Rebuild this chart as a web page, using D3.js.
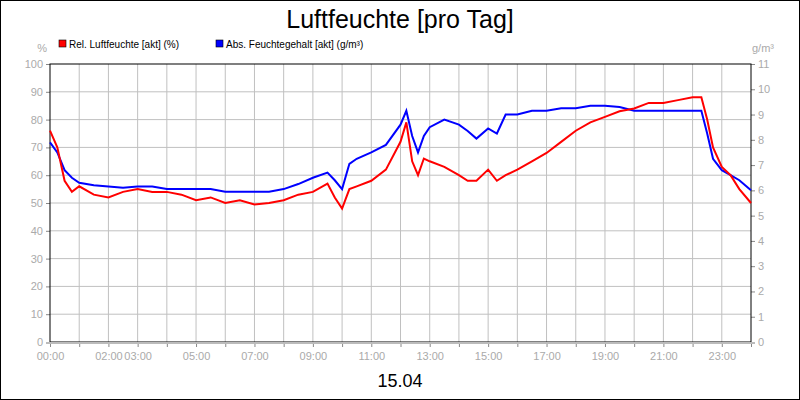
<!DOCTYPE html><html><head><meta charset="utf-8"><script src="https://cdn.jsdelivr.net/npm/d3@7"></script>
<style>body{margin:0}svg{font-family:Arial,"Liberation Sans",sans-serif}</style></head><body><svg width="800" height="400"></svg><script>
const hours=[0,0.25,0.5,0.75,1,1.5,2,2.5,3,3.5,4,4.5,5,5.5,6,6.5,7,7.5,8,8.5,9,9.5,9.75,10,10.25,10.5,11,11.5,12,12.2,12.4,12.6,12.8,13,13.5,14,14.3,14.6,15,15.3,15.6,16,16.5,17,17.5,18,18.5,19,19.5,20,20.5,21,21.5,22,22.3,22.5,22.7,23,23.3,23.6,24];
const relHum=[76,70,58,54,56,53,52,54,55,54,54,53,51,52,50,51,49.5,50,51,53,54,57,52,48,55,56,58,62,72,79,65,60,66,65,63,60,58,58,62,58,60,62,65,68,72,76,79,81,83,84,86,86,87,88,88,80,70,63,60,55,50];
const absHum=[7.9,7.5,6.8,6.5,6.3,6.2,6.15,6.1,6.15,6.15,6.05,6.05,6.05,6.05,5.95,5.95,5.95,5.95,6.05,6.25,6.5,6.7,6.4,6.05,7.05,7.25,7.5,7.8,8.6,9.15,8.15,7.5,8.15,8.5,8.8,8.6,8.35,8.05,8.45,8.25,9.0,9.0,9.15,9.15,9.25,9.25,9.35,9.35,9.3,9.15,9.15,9.15,9.15,9.15,9.15,8.25,7.25,6.8,6.6,6.4,6.0];
const xLabels=[0,2,3,5,7,9,11,13,15,17,19,21,23];
const svg=d3.select("svg");
svg.append("rect").attr("x",0.5).attr("y",0.5).attr("width",799).attr("height",399).attr("fill","#fff").attr("stroke","#000");
const L=50,R=751,T=64,B=342;
const x=d3.scaleLinear().domain([0,24]).range([L,R]);
const yL=d3.scaleLinear().domain([0,100]).range([B,T]);
const yR=d3.scaleLinear().domain([0,11]).range([B,T]);
const g=svg.append("g");
for(let h=1;h<24;h++)g.append("line").attr("x1",x(h)).attr("x2",x(h)).attr("y1",T).attr("y2",B).attr("stroke","#c0c0c0");
for(let v=10;v<100;v+=10)g.append("line").attr("x1",L).attr("x2",R).attr("y1",yL(v)).attr("y2",yL(v)).attr("stroke","#c0c0c0");
const gray="#aaa";
svg.append("g").attr("transform",`translate(${L},0)`).call(d3.axisLeft(yL).tickValues(d3.range(0,101,10)).tickSize(4).tickSizeOuter(0)).call(a=>{a.select(".domain").remove();a.selectAll("line").attr("stroke","#888");a.selectAll("text").attr("fill",gray).attr("font-size",11).attr("font-family","Arial")});
svg.append("g").attr("transform",`translate(${R},0)`).call(d3.axisRight(yR).tickValues(d3.range(0,12)).tickSize(4).tickSizeOuter(0)).call(a=>{a.select(".domain").remove();a.selectAll("line").attr("stroke","#888");a.selectAll("text").attr("fill",gray).attr("font-size",11).attr("font-family","Arial")});
svg.append("g").attr("transform",`translate(0,${B})`).call(d3.axisBottom(x).tickValues(d3.range(0,25)).tickSize(5).tickSizeOuter(0).tickFormat(d=>xLabels.includes(d)?String(d).padStart(2,"0")+":00":"")).call(a=>{a.select(".domain").remove();a.selectAll("line").attr("stroke","#888");a.selectAll("text").attr("fill",gray).attr("font-size",11).attr("font-family","Arial").attr("dy","0.9em")});
svg.append("rect").attr("x",L).attr("y",T).attr("width",R-L).attr("height",B-T).attr("fill","none").attr("stroke","#000");
svg.append("line").attr("x1",L-4).attr("x2",R+4).attr("y1",B+1).attr("y2",B+1).attr("stroke","#bbb").attr("stroke-width",2);
const ln=d3.line().x((d,i)=>x(hours[i]));
svg.append("path").attr("d",ln.y(d=>yR(d))(absHum)).attr("fill","none").attr("stroke","#0000ff").attr("stroke-width",2);
svg.append("path").attr("d",ln.y(d=>yL(d))(relHum)).attr("fill","none").attr("stroke","#ff0000").attr("stroke-width",2);
svg.append("text").attr("x",400).attr("y",28).attr("text-anchor","middle").attr("font-size",25).text("Luftfeuchte [pro Tag]");
svg.append("text").attr("x",400).attr("y",387).attr("text-anchor","middle").attr("font-size",18).text("15.04");
svg.append("text").attr("x",47).attr("y",52).attr("text-anchor","end").attr("font-size",11).attr("fill",gray).text("%");
svg.append("text").attr("x",752).attr("y",52).attr("font-size",11).attr("fill",gray).text("g/m³");
[["Rel. Luftfeuchte [akt] (%)","#ff0000",59],["Abs. Feuchtegehalt [akt] (g/m³)","#0000ff",216]].forEach(([t,c,px])=>{
svg.append("rect").attr("x",px).attr("y",40).attr("width",7).attr("height",7).attr("fill",c).attr("stroke","#000").attr("stroke-width",0.6);
svg.append("text").attr("x",px+10).attr("y",48).attr("font-size",10).text(t);});
</script></body></html>
